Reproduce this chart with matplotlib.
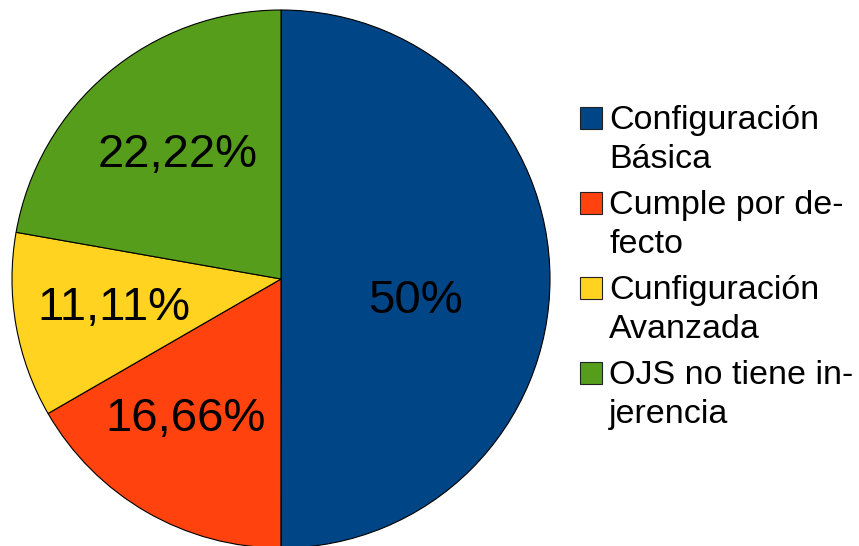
import numpy as np
import matplotlib
matplotlib.use("Agg")
import matplotlib.pyplot as plt
from matplotlib.patches import Rectangle

labels = ["Configuración\nBásica", "Cumple por de-\nfecto", "Cunfiguración\nAvanzada", "OJS no tiene in-\njerencia"]
values = [50, 16.66, 11.11, 22.22]
pct_text = ["50%", "16,66%", "11,11%", "22,22%"]
colors = ["#004586", "#ff420e", "#ffd320", "#579d1c"]

W, H = 859, 546
fig = plt.figure(figsize=(W/100, H/100), dpi=100)
plt.rcParams['font.family'] = ['Liberation Sans', 'DejaVu Sans']

ax = fig.add_axes([12/W, (H-548)/H, 538/W, 538/H])
wedges, _ = ax.pie(values, colors=colors, startangle=90, counterclock=False,
                   radius=1, wedgeprops=dict(edgecolor='black', linewidth=0.8))
ax.set_xlim(-1, 1)
ax.set_ylim(-1, 1)
ax.set_aspect('auto')
ax.axis('off')

dists = [0.5, 0.62, 0.63, 0.6]
offsets = [(0.0, -0.08), (-0.045, 0.015), (0.0, 0.0), (0.0, 0.0)]
for w, t, d, (ox, oy) in zip(wedges, pct_text, dists, offsets):
    ang = np.deg2rad((w.theta1 + w.theta2) / 2)
    x, y = d*np.cos(ang) + ox, d*np.sin(ang) + oy
    ax.text(x, y, t, ha='center', va='center', fontsize=34, color='black')

# legend
base0 = 129
step = 85
for i, (lab, c) in enumerate(zip(labels, colors)):
    base = base0 + i*step
    top = base - 22
    fig.patches.append(Rectangle((580/W, 1-(top+22)/H), 22/W, 22/H, transform=fig.transFigure,
                                 facecolor=c, edgecolor='#222222', linewidth=0.8))
    l1, l2 = lab.split("\n")
    fig.text(609/W, 1-base/H, l1, fontsize=24.5, ha='left', va='baseline')
    fig.text(609/W, 1-(base+39)/H, l2, fontsize=24.5, ha='left', va='baseline')

fig.savefig("out.png", dpi=100)
